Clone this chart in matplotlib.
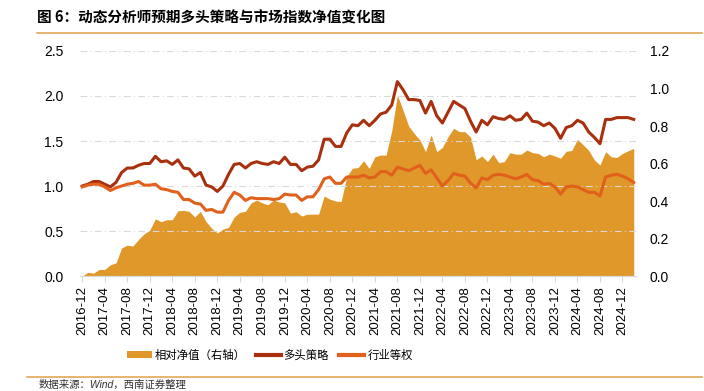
import matplotlib
matplotlib.use("Agg")
import matplotlib.pyplot as plt
from matplotlib.lines import Line2D
from matplotlib.patches import Patch
import numpy as np
import pandas as pd

plt.rcParams['font.family'] = ['Liberation Sans', 'Noto Sans CJK SC', 'DejaVu Sans']

# monthly, 2016-12 .. 2025-02
months = pd.date_range('2016-12-01', periods=99, freq='MS').strftime('%Y-%m').tolist()

long_strategy = [1.00, 1.02, 1.05, 1.05, 1.02, 0.99, 1.04, 1.15, 1.20, 1.20,
                 1.23, 1.25, 1.25, 1.33, 1.27, 1.28, 1.24, 1.29, 1.20, 1.19,
                 1.11, 1.15, 1.01, 0.99, 0.94, 1.00, 1.13, 1.24, 1.25, 1.20,
                 1.25, 1.27, 1.25, 1.24, 1.27, 1.25, 1.32, 1.24, 1.24, 1.17,
                 1.21, 1.22, 1.29, 1.52, 1.52, 1.44, 1.44, 1.59, 1.68, 1.67,
                 1.73, 1.67, 1.73, 1.80, 1.82, 1.90, 2.16, 2.07, 1.96, 1.96,
                 1.95, 1.81, 1.94, 1.78, 1.70, 1.82, 1.94, 1.90, 1.86, 1.72,
                 1.60, 1.73, 1.68, 1.77, 1.75, 1.74, 1.78, 1.73, 1.74, 1.81,
                 1.72, 1.71, 1.67, 1.70, 1.64, 1.53, 1.65, 1.67, 1.73, 1.70,
                 1.60, 1.54, 1.47, 1.74, 1.74, 1.76, 1.76, 1.76, 1.74]

equal_weight = [0.99, 1.01, 1.02, 1.02, 0.99, 0.95, 0.98, 1.00, 1.02, 1.03,
                1.05, 1.01, 1.01, 1.02, 0.97, 0.96, 0.94, 0.93, 0.85, 0.85,
                0.81, 0.80, 0.73, 0.74, 0.71, 0.71, 0.84, 0.93, 0.90, 0.84,
                0.87, 0.86, 0.86, 0.86, 0.85, 0.86, 0.91, 0.90, 0.90, 0.84,
                0.88, 0.88, 0.96, 1.08, 1.10, 1.03, 1.03, 1.10, 1.10, 1.10,
                1.12, 1.09, 1.10, 1.16, 1.16, 1.12, 1.21, 1.19, 1.17, 1.20,
                1.23, 1.14, 1.18, 1.09, 1.00, 1.06, 1.14, 1.12, 1.11, 1.03,
                0.98, 1.09, 1.07, 1.12, 1.13, 1.12, 1.10, 1.08, 1.10, 1.13,
                1.07, 1.06, 1.02, 1.03, 0.99, 0.91, 0.99, 1.00, 0.99, 0.96,
                0.93, 0.93, 0.89, 1.10, 1.12, 1.13, 1.11, 1.08, 1.04]

relative = [0.00, 0.02, 0.015, 0.035, 0.035, 0.06, 0.07, 0.15, 0.165, 0.16,
            0.195, 0.225, 0.245, 0.305, 0.29, 0.30, 0.30, 0.348, 0.35, 0.345,
            0.315, 0.345, 0.29, 0.255, 0.23, 0.25, 0.26, 0.315, 0.34, 0.345,
            0.39, 0.405, 0.39, 0.38, 0.405, 0.395, 0.39, 0.335, 0.343, 0.32,
            0.33, 0.33, 0.33, 0.427, 0.41, 0.40, 0.397, 0.53, 0.575, 0.578,
            0.615, 0.574, 0.636, 0.645, 0.645, 0.775, 0.965, 0.885, 0.80, 0.76,
            0.725, 0.663, 0.752, 0.663, 0.686, 0.743, 0.788, 0.77, 0.77, 0.74,
            0.62, 0.64, 0.61, 0.65, 0.605, 0.61, 0.658, 0.65, 0.65, 0.672,
            0.658, 0.654, 0.636, 0.65, 0.64, 0.628, 0.665, 0.67, 0.729, 0.70,
            0.67, 0.619, 0.592, 0.663, 0.636, 0.632, 0.654, 0.668, 0.681]

c_area = '#E0982A'
c_long = '#A8300F'
c_eq = '#E0601C'
c_rule = '#E3A857'

fig = plt.figure(figsize=(7.04, 3.91), dpi=100)
ax = fig.add_axes([0.1136, 0.294, 0.7898, 0.5756])
ax2 = ax.twinx()

x = np.arange(len(months))
ax2.fill_between(x, 0, relative, color=c_area, linewidth=0, zorder=1)
ax.plot(x, long_strategy, color=c_long, linewidth=2.2, zorder=3)
ax.plot(x, equal_weight, color=c_eq, linewidth=2.2, zorder=3)

# lines on top of area
ax.set_zorder(ax2.get_zorder() + 1)
ax.patch.set_visible(False)

ax.set_ylim(0, 2.5)
ax.set_yticks([0, 0.5, 1.0, 1.5, 2.0, 2.5])
ax.set_yticklabels(['%.1f' % v for v in [0, 0.5, 1.0, 1.5, 2.0, 2.5]])
ax2.set_ylim(0, 1.2)
ax2.set_yticks([0, 0.2, 0.4, 0.6, 0.8, 1.0, 1.2])
ax2.set_yticklabels(['%.1f' % v for v in [0, 0.2, 0.4, 0.6, 0.8, 1.0, 1.2]])
ax.set_xlim(-0.4, len(months) - 0.6)

ax.grid(axis='y', color='#D9D9D9', linestyle=(0, (6, 3, 1, 3)), linewidth=0.8)
ax.set_axisbelow(True)

tick_idx = list(range(0, len(months), 4))[:25]
ax.set_xticks(tick_idx)
ax.set_xticklabels([months[i] for i in tick_idx], rotation=90, fontsize=9.5)

for a in (ax, ax2):
    for s in ('top', 'left', 'right'):
        a.spines[s].set_visible(False)
    a.spines['bottom'].set_color('#D9D9D9')
ax.tick_params(axis='y', length=0, labelsize=10, pad=12)
ax2.tick_params(axis='y', length=0, labelsize=10, pad=10)
ax.tick_params(axis='x', length=4, color='#D9D9D9', labelsize=9.5, pad=3)

# title and rules
fig.text(0.053, 0.955, '图 6：动态分析师预期多头策略与市场指数净值变化图',
         fontsize=10.5, fontweight='bold', va='center', ha='left',
         family=['Noto Sans CJK SC', 'DejaVu Sans'])
fig.add_artist(Line2D([0.052, 0.997], [0.916, 0.916], color=c_rule, linewidth=1.2))
fig.add_artist(Line2D([0.038, 0.997], [0.035, 0.035], color=c_rule, linewidth=1.2))
fig.text(0.055, 0.003, '数据来源：Wind，西南证券整理', fontsize=7.5, style='italic',
         va='bottom', ha='left', color='#333333')

handles = [Patch(facecolor=c_area, edgecolor='none'),
           Line2D([], [], color=c_long, linewidth=3),
           Line2D([], [], color=c_eq, linewidth=3)]
labels = ['相对净值（右轴）', '多头策略', '行业等权']
fig.legend(handles, labels, loc='center', bbox_to_anchor=(0.383, 0.092), ncol=3,
           frameon=False, handlelength=2.2, handleheight=0.6,
           columnspacing=0.9, handletextpad=0.25,
           prop={'family': ['Noto Sans CJK SC', 'DejaVu Sans'], 'size': 8.2})

fig.savefig('out.png', dpi=100)
